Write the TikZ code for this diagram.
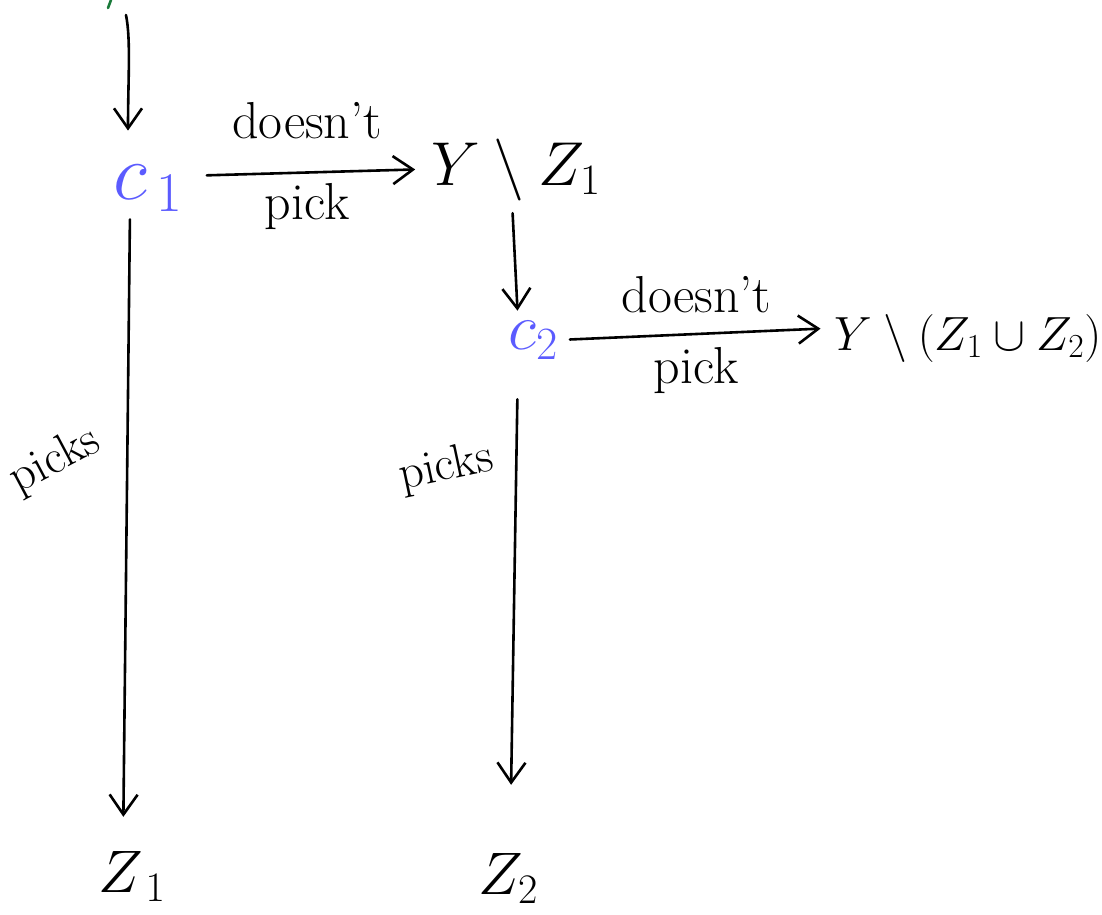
\RequirePackage{fix-cm}
\documentclass[tikz,border=0pt]{standalone}
\usetikzlibrary{arrows.meta}
\definecolor{penblue}{HTML}{5B5BFF}
\definecolor{pengreen}{HTML}{1A7A3A}
\tikzset{
  ink/.style={line width=2.6pt, line cap=round, line join=round},
  arr/.style={ink, -{Straight Barb[length=20pt,width=28pt,line width=2.6pt]}},
  lbl/.style={font=\fontsize{52}{56}\selectfont, inner sep=0pt},
  sidelbl/.style={font=\fontsize{48}{52}\selectfont, inner sep=0pt},
  cnode/.style={text=penblue, inner sep=0pt},
  setnode/.style={inner sep=0pt},
}
\begin{document}
\begin{tikzpicture}[x=1pt,y=-1pt]
\useasboundingbox (0,0) rectangle (1102,914);
% green tick at the top
\draw[ink, pengreen] (111,0) -- (108,8);
\coordinate (top) at (126,15);
% nodes
\node[cnode, font=\fontsize{80}{90}\selectfont] (c1) at (148,188) {$c_{\,1}$};
\node[setnode, font=\fontsize{62}{70}\selectfont] (y1) at (516,170) {$Y\setminus Z_1$};
\node[cnode, font=\fontsize{66}{72}\selectfont] (c2) at (533,340) {$c_{2}$};
\node[setnode, font=\fontsize{48}{54}\selectfont] (y2) at (968,338) {$Y\setminus(Z_1\cup Z_2)$};
\node[setnode, font=\fontsize{60}{66}\selectfont] (z1) at (132,876) {$Z_{\,1}$};
\node[setnode, font=\fontsize{60}{66}\selectfont] (z2) at (508,878) {$Z_{2}$};
% connectors
\draw[arr] (top) .. controls (131,40) and (128,80) .. ([xshift=-20pt,yshift=34pt]c1.north);
\draw[arr, shorten <=24pt, shorten >=16pt] ([yshift=12pt]c1.east) -- ([yshift=1pt]y1.west)
  node[lbl, midway, above=32pt] {doesn't}
  node[lbl, midway, below=10pt] {pick};
\draw[arr, shorten <=12pt, shorten >=10pt] ([xshift=-4pt]y1.south) -- ([xshift=-15pt]c2.north);
\draw[arr, shorten <=12pt, shorten >=14pt] (c2.east) -- ([yshift=10pt]y2.west)
  node[lbl, midway, above=20pt] {doesn't}
  node[lbl, midway, below=12pt] {pick};
\draw[arr, shorten <=8pt, shorten >=34pt] ([xshift=-18pt]c1.south) -- ([xshift=-9pt]z1.north)
  node[sidelbl, pos=0.39, xshift=-72pt, rotate=28] {picks};
\draw[arr, shorten <=40pt, shorten >=68pt] ([xshift=-15pt]c2.south) -- ([xshift=2pt]z2.north)
  node[sidelbl, pos=0.22, xshift=-70pt, rotate=12] {picks};
\end{tikzpicture}
\end{document}
